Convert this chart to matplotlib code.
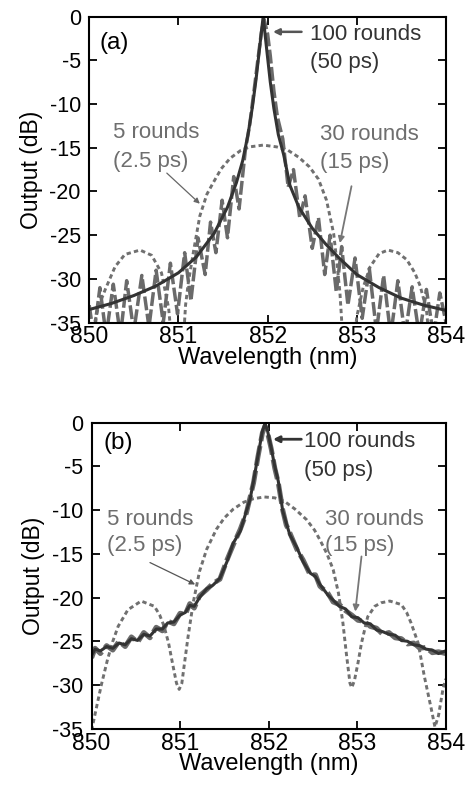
import matplotlib
matplotlib.use("Agg")
import matplotlib.pyplot as plt

plt.rcParams["font.family"] = ["Liberation Sans", "DejaVu Sans"]
plt.rcParams["axes.unicode_minus"] = False

# --------------------------------------------------------------------------- #
# Data (wavelength in nm, output in dB)
# --------------------------------------------------------------------------- #

xticks = [850, 851, 852, 853, 854]
yticks = [0, -5, -10, -15, -20, -25, -30, -35]
ytick_labels = ["0", "-5", "-10", "-15", "-20", "-25", "-30", "-35"]

# panel (a) -- 100 rounds (50 ps)
a100_x = [850.0, 850.25, 850.5, 850.75, 851.0, 851.2, 851.4, 851.55, 851.65,
          851.72, 851.78, 851.83, 851.87, 851.91, 851.95, 851.99, 852.03,
          852.07, 852.12, 852.18, 852.25, 852.35, 852.5, 852.65, 852.8,
          853.0, 853.25, 853.5, 853.75, 854.0]
a100_y = [-33.5, -32.8, -31.9, -30.8, -29.3, -27.5, -24.8, -21.8, -19.0,
          -16.5, -13.5, -10.3, -7.2, -3.6, 0.0, -3.8, -7.5,
          -10.5, -13.5, -15.8, -19.3, -21.8, -24.2, -26.0, -27.6,
          -29.5, -31.0, -32.2, -33.0, -33.6]

# panel (a) -- 30 rounds (15 ps)
a30_x = [850.00, 850.05, 850.12, 850.19, 850.27, 850.35, 850.42, 850.50,
         850.59, 850.67, 850.75, 850.83, 850.91, 850.99, 851.07, 851.14,
         851.22, 851.30, 851.36, 851.42, 851.49, 851.55, 851.62, 851.68,
         851.75, 851.80, 851.85, 851.89, 851.93, 851.96, 852.00, 852.03,
         852.07, 852.11, 852.17, 852.23, 852.29, 852.36, 852.42, 852.50,
         852.57, 852.64, 852.70, 852.77, 852.83, 852.90, 852.98, 853.06,
         853.14, 853.22, 853.30, 853.38, 853.46, 853.54, 853.62, 853.70,
         853.78, 853.86, 853.93, 854.00]
a30_y = [-33.0, -36.5, -31.0, -36.5, -30.6, -36.5, -30.2, -36.0,
         -29.6, -35.5, -29.0, -35.0, -28.2, -34.0, -27.0, -32.5,
         -25.3, -29.5, -23.5, -27.0, -21.0, -25.3, -18.3, -22.0,
         -15.3, -12.3, -8.3, -5.0, -1.8, -0.3, -2.0, -4.5,
         -8.5, -11.5, -14.0, -19.5, -17.5, -23.0, -20.5, -26.5,
         -23.0, -29.5, -25.0, -31.5, -26.3, -33.0, -27.6, -34.5,
         -28.8, -36.0, -29.6, -36.5, -30.2, -36.5, -30.9, -36.5,
         -31.2, -36.5, -31.6, -35.0]

# panel (a) -- 5 rounds (2.5 ps)
a5_x = [850.00, 850.05, 850.10, 850.18, 850.29, 850.40, 850.57, 850.70,
        850.81, 850.89, 850.95, 851.00, 851.05, 851.08, 851.11, 851.17,
        851.24, 851.32, 851.39, 851.48, 851.58, 851.70, 851.80, 851.95,
        852.10, 852.23, 852.35, 852.47, 852.57, 852.66, 852.74, 852.77,
        852.81, 852.85, 852.90, 852.96, 853.00, 853.07, 853.15, 853.25,
        853.35, 853.46, 853.56, 853.65, 853.71, 853.78, 853.84, 853.90,
        854.00]
a5_y = [-40.0, -35.5, -33.3, -31.2, -28.6, -27.2, -26.7, -27.3,
        -29.3, -33.3, -40.0, -48.0, -38.0, -33.0, -30.5, -26.8,
        -22.8, -20.3, -19.0, -17.4, -16.2, -15.3, -14.9, -14.7,
        -14.9, -15.3, -16.1, -17.2, -18.6, -21.0, -24.8, -27.5,
        -31.5, -38.0, -48.0, -38.0, -34.3, -31.0, -28.6, -27.1,
        -26.7, -27.0, -27.8, -29.3, -30.8, -33.5, -40.0, -48.0,
        -40.0]

# panel (b) -- 100 rounds (50 ps)
b100_x = [850.00, 850.04, 850.10, 850.17, 850.24, 850.31, 850.38, 850.45,
          850.52, 850.59, 850.66, 850.73, 850.80, 850.86, 850.93, 851.00,
          851.06, 851.11, 851.16, 851.22, 851.30, 851.37, 851.45, 851.53,
          851.60, 851.68, 851.75, 851.79, 851.83, 851.88, 851.93, 851.96,
          851.99, 852.03, 852.07, 852.11, 852.16, 852.20, 852.24, 852.32,
          852.39, 852.47, 852.53, 852.58, 852.67, 852.73, 852.80, 852.87,
          852.94, 853.01, 853.08, 853.15, 853.22, 853.29, 853.36, 853.43,
          853.50, 853.57, 853.64, 853.71, 853.78, 853.85, 853.92, 854.00]
b100_y = [-26.6, -25.9, -26.1, -25.6, -25.8, -25.2, -25.4, -24.7,
          -24.9, -24.2, -24.4, -23.6, -23.6, -22.9, -22.8, -22.0,
          -21.7, -20.9, -21.0, -20.0, -19.0, -18.6, -17.8, -15.9,
          -13.8, -12.4, -10.1, -8.8, -6.7, -3.8, -1.0, -0.1,
          -1.0, -2.9, -5.0, -6.7, -10.1, -11.5, -12.8, -14.3,
          -15.9, -17.2, -17.6, -18.5, -19.7, -20.3, -21.0, -21.3,
          -22.2, -22.3, -22.9, -23.0, -23.7, -23.9, -24.2, -24.3,
          -24.9, -25.0, -25.4, -25.5, -25.9, -26.0, -26.4, -26.1]

# panel (b) -- 30 rounds (15 ps), almost on top of the 100-round trace
b30_x = b100_x
b30_y = [-26.9, -25.8, -26.4, -25.5, -26.0, -25.0, -25.6, -24.5,
         -25.1, -24.0, -24.6, -23.4, -23.8, -22.7, -23.0, -21.8,
         -21.9, -20.7, -21.2, -19.8, -19.1, -18.4, -17.9, -15.7,
         -14.0, -12.2, -10.3, -8.6, -6.9, -3.9, -1.2, -0.4,
         -1.2, -3.0, -5.2, -6.9, -10.0, -11.7, -12.6, -14.5,
         -15.7, -17.4, -17.4, -18.7, -19.5, -20.5, -20.8, -21.5,
         -22.0, -22.6, -22.7, -23.3, -23.5, -24.2, -24.0, -24.6,
         -24.7, -25.3, -25.2, -25.8, -25.7, -26.3, -26.2, -26.4]

# panel (b) -- 5 rounds (2.5 ps)
b5_x = [850.00, 850.04, 850.11, 850.18, 850.24, 850.30, 850.41, 850.56,
        850.71, 850.77, 850.82, 850.87, 850.92, 850.96, 850.99, 851.02,
        851.05, 851.09, 851.15, 851.22, 851.30, 851.41, 851.50, 851.60,
        851.72, 851.83, 851.95, 852.07, 852.18, 852.30, 852.43, 852.52,
        852.58, 852.66, 852.73, 852.79, 852.84, 852.88, 852.92, 852.94,
        852.97, 853.01, 853.05, 853.12, 853.20, 853.27, 853.37, 853.50,
        853.56, 853.61, 853.69, 853.76, 853.84, 853.88, 853.92, 853.97,
        854.00]
b5_y = [-35.2, -33.3, -30.0, -27.1, -25.0, -23.3, -21.4, -20.4,
        -21.0, -22.0, -23.3, -25.2, -27.8, -29.8, -30.5, -29.8,
        -27.5, -24.5, -20.5, -17.0, -14.5, -12.2, -10.9, -9.9,
        -9.1, -8.7, -8.5, -8.6, -9.0, -9.9, -11.1, -12.3,
        -13.4, -15.0, -16.8, -19.5, -22.9, -26.5, -29.8, -30.3,
        -29.5, -27.5, -25.2, -22.2, -21.0, -20.6, -20.4, -20.8,
        -21.7, -22.9, -25.2, -29.0, -32.8, -34.8, -33.5, -30.5,
        -29.3]

# --------------------------------------------------------------------------- #
# Styling
# --------------------------------------------------------------------------- #

C100 = "#333333"
C30 = "#6a6a6a"
C5 = "#707070"
TXT_GRAY = "#6e6e6e"
ANN_FS = 16


def style_axes(ax):
    ax.set_xlim(850, 854)
    ax.set_ylim(-35, 0)
    ax.set_xticks(xticks)
    ax.set_xticklabels([str(t) for t in xticks], fontsize=16.5)
    ax.set_yticks(yticks)
    ax.set_yticklabels(ytick_labels, fontsize=15.5)
    ax.tick_params(direction="in", top=True, right=True, length=6, width=1.3)
    ax.tick_params(axis="x", pad=2)
    ax.tick_params(axis="y", pad=6)
    for sp in ax.spines.values():
        sp.set_linewidth(1.5)
    ax.set_xlabel("Wavelength (nm)", fontsize=17, labelpad=-1)
    ax.set_ylabel("Output (dB)", fontsize=16.5, labelpad=5)


def draw_panel(ax, x5, y5, x30, y30, x100, y100, lw30):
    ax.plot(x5, y5, color=C5, lw=2.1, dashes=(1.5, 1.1))
    ax.plot(x30, y30, color=C30, lw=lw30, dashes=(4.0, 1.0))
    ax.plot(x100, y100, color=C100, lw=2.2)


fig = plt.figure(figsize=(4.72, 7.87), dpi=100)

# ---- panel (a)
ax_a = fig.add_axes([0.189, 0.590, 0.756, 0.389])
draw_panel(ax_a, a5_x, a5_y, a30_x, a30_y, a100_x, a100_y, lw30=2.5)
style_axes(ax_a)
ax_a.text(850.12, -3.0, "(a)", fontsize=17.5, va="center")
ax_a.text(852.47, -2.0, "100 rounds", fontsize=ANN_FS, color=C100, va="center")
ax_a.text(852.47, -5.3, "(50 ps)", fontsize=ANN_FS, color=C100, va="center")
ax_a.annotate("", xy=(852.06, -1.75), xytext=(852.38, -1.75),
              arrowprops=dict(arrowstyle="-|>", color="#555555", lw=1.8,
                              mutation_scale=9, shrinkA=0, shrinkB=0))
ax_a.text(850.27, -13.3, "5 rounds", fontsize=ANN_FS, color=TXT_GRAY, va="center")
ax_a.text(850.27, -16.6, "(2.5 ps)", fontsize=ANN_FS, color=TXT_GRAY, va="center")
ax_a.annotate("", xy=(851.24, -21.4), xytext=(850.87, -17.9),
              arrowprops=dict(arrowstyle="-|>", color="#666666", lw=0.9,
                              mutation_scale=8, shrinkA=0, shrinkB=0))
ax_a.text(852.59, -13.5, "30 rounds", fontsize=ANN_FS, color=TXT_GRAY, va="center")
ax_a.text(852.59, -16.7, "(15 ps)", fontsize=ANN_FS, color=TXT_GRAY, va="center")
ax_a.annotate("", xy=(852.81, -25.9), xytext=(852.94, -19.4),
              arrowprops=dict(arrowstyle="-|>", color="#777777", lw=1.3,
                              mutation_scale=9, shrinkA=0, shrinkB=0))

# ---- panel (b)
ax_b = fig.add_axes([0.194, 0.074, 0.750, 0.389])
draw_panel(ax_b, b5_x, b5_y, b30_x, b30_y, b100_x, b100_y, lw30=3.6)
style_axes(ax_b)
ax_b.text(850.13, -2.3, "(b)", fontsize=17.5, va="center")
ax_b.text(852.40, -2.2, "100 rounds", fontsize=ANN_FS, color=C100, va="center")
ax_b.text(852.40, -5.5, "(50 ps)", fontsize=ANN_FS, color=C100, va="center")
ax_b.annotate("", xy=(852.05, -1.9), xytext=(852.37, -1.9),
              arrowprops=dict(arrowstyle="-|>", color="#333333", lw=2.0,
                              mutation_scale=9, shrinkA=0, shrinkB=0))
ax_b.text(850.18, -11.1, "5 rounds", fontsize=ANN_FS, color=TXT_GRAY, va="center")
ax_b.text(850.18, -14.1, "(2.5 ps)", fontsize=ANN_FS, color=TXT_GRAY, va="center")
ax_b.annotate("", xy=(851.17, -18.5), xytext=(850.66, -16.0),
              arrowprops=dict(arrowstyle="-|>", color="#555555", lw=0.9,
                              mutation_scale=8, shrinkA=0, shrinkB=0))
ax_b.text(852.64, -11.1, "30 rounds", fontsize=ANN_FS, color=TXT_GRAY, va="center")
ax_b.text(852.64, -14.1, "(15 ps)", fontsize=ANN_FS, color=TXT_GRAY, va="center")
ax_b.annotate("", xy=(852.98, -21.6), xytext=(853.05, -15.3),
              arrowprops=dict(arrowstyle="-|>", color="#777777", lw=1.3,
                              mutation_scale=9, shrinkA=0, shrinkB=0))

fig.savefig("out.png", dpi=100)
plt.close(fig)
